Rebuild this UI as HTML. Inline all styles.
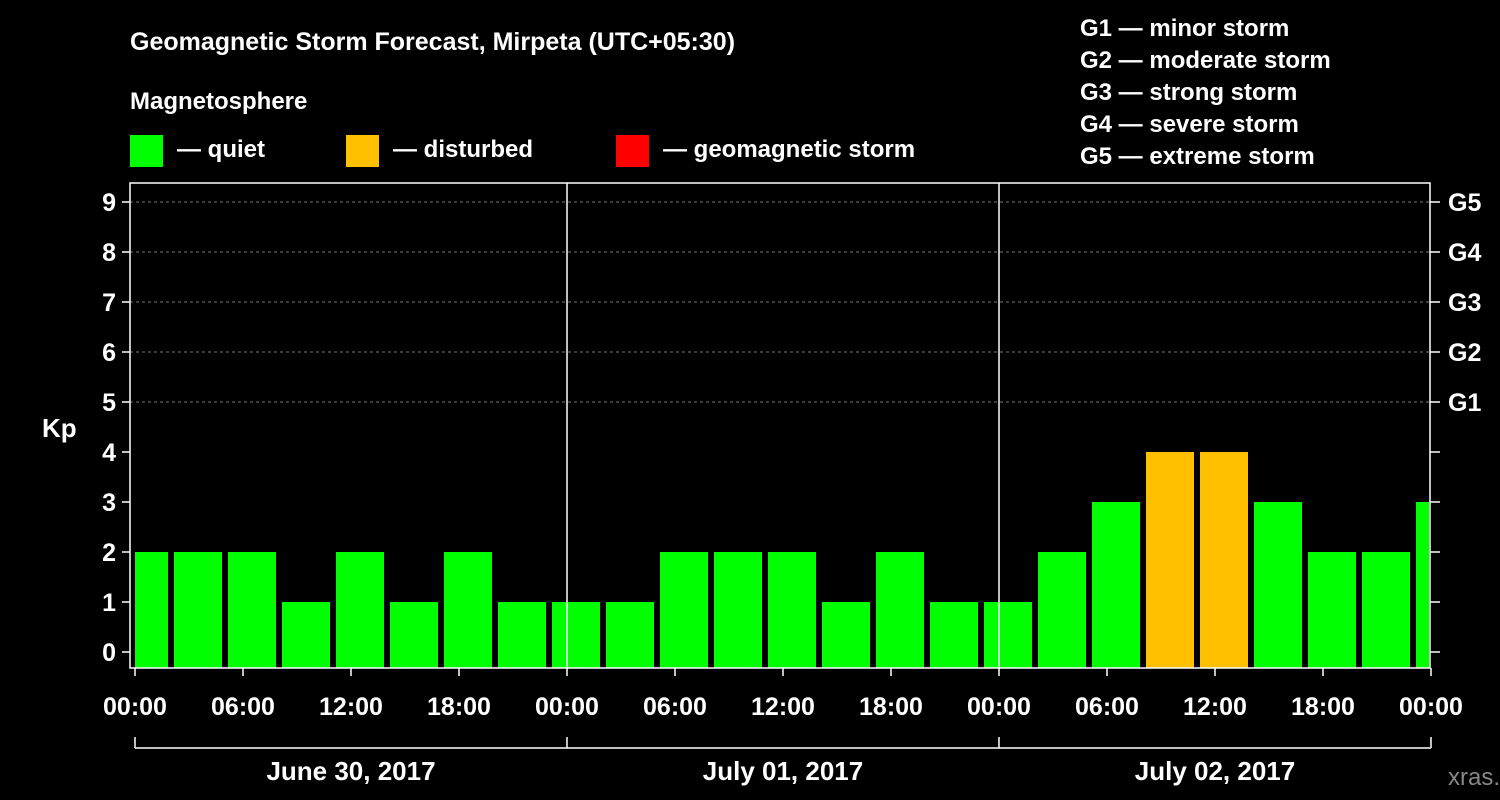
<!DOCTYPE html>
<html><head><meta charset="utf-8"><style>
html,body{margin:0;padding:0;background:#000;}
svg{display:block;font-family:"Liberation Sans",Arial,sans-serif;font-weight:bold;}
</style></head><body>
<svg width="1500" height="800" viewBox="0 0 1500 800">
<rect width="1500" height="800" fill="#000"/>
<text x="130" y="50" fill="#fff" font-size="25">Geomagnetic Storm Forecast, Mirpeta (UTC+05:30)</text>
<text x="130" y="109" fill="#fff" font-size="24">Magnetosphere</text>
<g>
<rect x="130" y="135" width="33" height="32" fill="#00ff00"/>
<text x="177" y="157" fill="#fff" font-size="24">— quiet</text>
<rect x="346" y="135" width="33" height="32" fill="#ffc000"/>
<text x="393" y="157" fill="#fff" font-size="24">— disturbed</text>
<rect x="616" y="135" width="33" height="32" fill="#ff0000"/>
<text x="663" y="157" fill="#fff" font-size="24">— geomagnetic storm</text>
</g>
<g fill="#fff" font-size="24">
<text x="1080" y="36">G1 — minor storm</text>
<text x="1080" y="68">G2 — moderate storm</text>
<text x="1080" y="100">G3 — strong storm</text>
<text x="1080" y="132">G4 — severe storm</text>
<text x="1080" y="164">G5 — extreme storm</text>
</g>
<text x="42" y="437" fill="#fff" font-size="26">Kp</text>
<text x="1448" y="785" fill="#888" font-size="24" font-weight="normal">xras.ru</text>
<g id="plot"></g>
</svg>
<script>
const kpValues = [2, 2,2,1,2,1,2,1, 1,1,2,2,2,1,2,1, 1,2,3,4,4,3,2,2,3];
const yTicks = [0,1,2,3,4,5,6,7,8,9];
const gLabels = ["G1","G2","G3","G4","G5"];
const xTickLabels = ["00:00","06:00","12:00","18:00","00:00","06:00","12:00","18:00","00:00","06:00","12:00","18:00","00:00"];
const dayLabels = ["June 30, 2017","July 01, 2017","July 02, 2017"];

const NS="http://www.w3.org/2000/svg";
const g=document.getElementById('plot');
const L=130,R=1430,T=183,B=668,X0=135,DAY=432;
const yS=v=>652-50*v;
const xH=h=>X0+h*18;
function mk(tag,attrs,parent){const e=document.createElementNS(NS,tag);for(const k in attrs)e.setAttribute(k,attrs[k]);(parent||g).appendChild(e);return e;}
// grid
yTicks.forEach(v=>{
  if(v>=5){const l=mk('line',{x1:L,x2:R,y1:yS(v),y2:yS(v),stroke:'#777','stroke-dasharray':'3,3','stroke-width':1});
  
  }
  mk('line',{x1:L-8,x2:L,y1:yS(v),y2:yS(v),stroke:'#fff','stroke-width':1.5});
  mk('line',{x1:R,x2:R+10,y1:yS(v),y2:yS(v),stroke:'#fff','stroke-width':1.5});
  const t=mk('text',{x:L-14,y:yS(v)+9,fill:'#fff','font-size':25,'text-anchor':'end'});t.textContent=v;
  
  
});
gLabels.forEach((s,i)=>{const t=mk('text',{x:R+18,y:yS(5+i)+9,fill:'#fff','font-size':25});t.textContent=s;
  
  });
// bars
const clip=mk('clipPath',{id:'pc'});mk('rect',{x:L+5,y:T,width:R-L-6,height:B-T},clip);
const bg=mk('g',{'clip-path':'url(#pc)'});
kpValues.forEach((v,i)=>{
  const x=xH(2+3*(i-1))+3;
  const b=mk('rect',{x:x,y:yS(v),width:48,height:B-yS(v),fill:v>=5?'#ff0000':(v>=4?'#ffc000':'#00ff00')},bg);
  
  
});
// frame
mk('rect',{x:L,y:T,width:R-L,height:B-T,fill:'none',stroke:'#fff','stroke-width':1.5});
[1,2].forEach(d=>mk('line',{x1:X0+d*DAY,x2:X0+d*DAY,y1:T,y2:B,stroke:'#fff','stroke-width':1.5}));
// x ticks
xTickLabels.forEach((s,i)=>{
  const x=xH(i*6);
  mk('line',{x1:x,x2:x,y1:B,y2:B+8,stroke:'#fff','stroke-width':1.5});
  const t=mk('text',{x:x,y:715,fill:'#fff','font-size':25,'text-anchor':'middle'});t.textContent=s;
  
  
});
mk('line',{x1:X0,x2:X0+3*DAY,y1:748,y2:748,stroke:'#fff','stroke-width':1.5});
[0,1,2,3].forEach(d=>mk('line',{x1:X0+d*DAY,x2:X0+d*DAY,y1:737,y2:748,stroke:'#fff','stroke-width':1.5}));
dayLabels.forEach((s,i)=>{const t=mk('text',{x:X0+DAY*(i+0.5),y:780,fill:'#fff','font-size':26,'text-anchor':'middle'});t.textContent=s;
  
  });
</script>
</body></html>
